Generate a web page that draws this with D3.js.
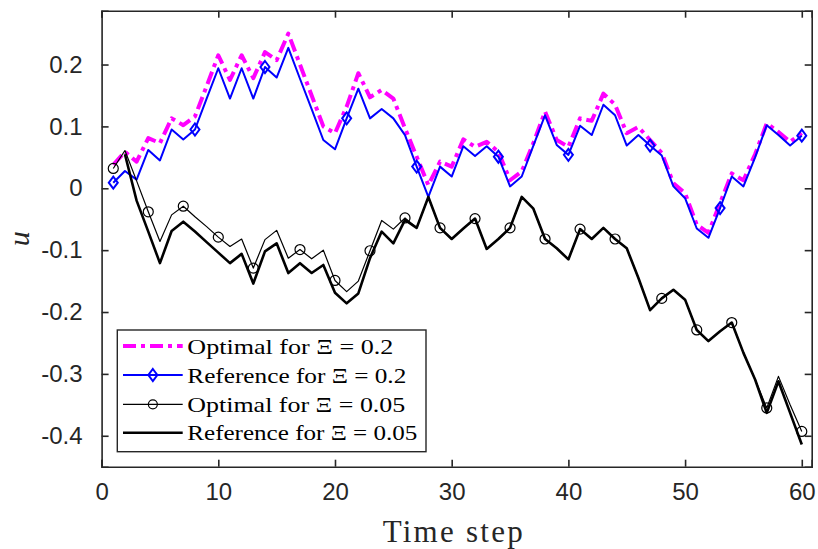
<!DOCTYPE html>
<html lang="en">
	<head>
		<meta charset="utf-8">
		<title>u vs time step</title>
		<script src="https://d3js.org/d3.v7.min.js"></script>
		<style>
			body { margin: 0; background: #fff; }
		</style>
	</head>
	<body>
		<div id="my_dataviz"></div>
		<script>
// time steps 1..60
var steps = [1,2,3,4,5,6,7,8,9,10,11,12,13,14,15,16,17,18,19,20,
  21,22,23,24,25,26,27,28,29,30,31,32,33,34,35,36,37,38,39,40,
  41,42,43,44,45,46,47,48,49,50,51,52,53,54,55,56,57,58,59,60]

// Optimal for Xi = 0.2 (magenta dash-dot)
var optimal02 = [0.038,0.059,0.043,0.081,0.073,0.113,0.102,0.116,0.165,0.215,
  0.175,0.215,0.178,0.220,0.207,0.250,0.200,0.150,0.100,0.089,
  0.132,0.186,0.147,0.159,0.145,0.097,0.051,0.005,0.043,0.035,
  0.079,0.067,0.075,0.059,0.013,0.027,0.073,0.124,0.078,0.067,
  0.113,0.109,0.153,0.135,0.089,0.099,0.078,0.057,0.008,-0.008,
  -0.059,-0.072,-0.024,0.024,0.013,0.055,0.105,0.091,0.075,0.089]

// Reference for Xi = 0.2 (blue, diamonds)
var reference02 = [0.009,0.028,0.014,0.062,0.045,0.095,0.079,0.095,0.145,0.194,
  0.145,0.194,0.145,0.196,0.179,0.227,0.177,0.128,0.078,0.063,
  0.113,0.161,0.113,0.128,0.113,0.086,0.035,-0.014,0.035,0.019,
  0.068,0.052,0.068,0.051,0.003,0.019,0.069,0.118,0.070,0.054,
  0.101,0.086,0.135,0.118,0.069,0.086,0.069,0.053,0.003,-0.016,
  -0.065,-0.080,-0.032,0.019,0.003,0.050,0.102,0.086,0.069,0.085]

// Optimal for Xi = 0.05 (thin black, circles)
var optimal005 = [0.032,0.061,0.012,-0.038,-0.086,-0.043,-0.029,-0.046,-0.062,-0.079,
  -0.094,-0.082,-0.129,-0.083,-0.068,-0.113,-0.099,-0.114,-0.100,-0.149,
  -0.167,-0.150,-0.101,-0.052,-0.066,-0.048,-0.064,-0.014,-0.064,-0.082,
  -0.065,-0.049,-0.098,-0.082,-0.064,-0.014,-0.033,-0.082,-0.097,-0.115,
  -0.066,-0.082,-0.064,-0.082,-0.097,-0.145,-0.197,-0.178,-0.164,-0.180,
  -0.229,-0.247,-0.231,-0.217,-0.266,-0.309,-0.355,-0.304,-0.350,-0.393]

// Reference for Xi = 0.05 (thick black), no value at step 1
var reference005 = [null,0.055,-0.020,-0.070,-0.121,-0.069,-0.054,-0.070,-0.087,-0.104,
  -0.121,-0.106,-0.154,-0.102,-0.089,-0.137,-0.121,-0.137,-0.124,-0.169,
  -0.186,-0.170,-0.113,-0.070,-0.089,-0.051,-0.064,-0.014,-0.064,-0.082,
  -0.065,-0.049,-0.098,-0.082,-0.064,-0.014,-0.033,-0.082,-0.097,-0.115,
  -0.066,-0.082,-0.064,-0.082,-0.097,-0.145,-0.197,-0.178,-0.164,-0.180,
  -0.229,-0.247,-0.231,-0.217,-0.266,-0.309,-0.363,-0.312,-0.363,-0.414]

// steps that carry a marker
var diamondSteps = [1,8,14,21,27,34,40,47,53,60]
var circleSteps = [1,4,7,10,13,17,20,23,26,29,32,35,38,41,44,48,51,54,57,60]

// tick labels
var xTicks = [0,10,20,30,40,50,60]
var yTicks = [-0.4,-0.3,-0.2,-0.1,0,0.1,0.2]

var legendLabels = ["Optimal for \u039E = 0.2", "Reference for \u039E = 0.2",
  "Optimal for \u039E = 0.05", "Reference for \u039E = 0.05"]

// dimensions
var W = 818, H = 549
var margin = {top: 10.7, right: 6.3, bottom: 82.3, left: 101.6}
var width = W - margin.left - margin.right,
    height = H - margin.top - margin.bottom
var axisColor = "#262626"

var svg = d3.select("#my_dataviz")
  .append("svg")
    .attr("width", W)
    .attr("height", H)
    .style("display", "block")

var x = d3.scaleLinear().domain([0, 60.85]).range([margin.left, margin.left + width])
var y = d3.scaleLinear().domain([-0.45, 0.287]).range([margin.top + height, margin.top])

var plot = svg.append("g")

var series = [
  {vals: optimal02, color: "#FF00FF", w: 4, dash: "13,5,4,5"},
  {vals: reference02, color: "#0000FF", w: 2, dash: null},
  {vals: reference005, color: "#000000", w: 2.6, dash: null},
  {vals: optimal005, color: "#000000", w: 1.2, dash: null}
]

var line = d3.line()
  .defined(d => d[1] !== null)
  .x(d => x(d[0]))
  .y(d => y(d[1]))

series.forEach(function(s) {
  plot.append("path")
    .datum(steps.map((t, i) => [t, s.vals[i]]))
    .attr("fill", "none")
    .attr("stroke", s.color)
    .attr("stroke-width", s.w)
    .attr("stroke-linejoin", "round")
    .attr("stroke-dasharray", s.dash)
    .attr("d", line)
})

// diamond marker path
function diamond(cx, cy, hw, hh) {
  return `M${cx},${cy - hh}L${cx + hw},${cy}L${cx},${cy + hh}L${cx - hw},${cy}Z`
}

plot.selectAll(".dia")
  .data(diamondSteps)
  .join("path")
    .attr("class", "dia")
    .attr("d", t => diamond(x(t), y(reference02[t - 1]), 4.5, 6))
    .attr("fill", "none")
    .attr("stroke", "#0000FF")
    .attr("stroke-width", 2)

plot.selectAll(".circ")
  .data(circleSteps)
  .join("circle")
    .attr("class", "circ")
    .attr("cx", t => x(t))
    .attr("cy", t => y(optimal005[t - 1]))
    .attr("r", 5)
    .attr("fill", "none")
    .attr("stroke", "#000")
    .attr("stroke-width", 1.2)

// axes (ticks inside, on all four sides)
var tickLen = 7
svg.append("g")
  .attr("transform", `translate(0, ${margin.top + height})`)
  .call(d3.axisBottom(x).tickValues(xTicks).tickSize(-tickLen).tickPadding(16).tickFormat(d3.format("d")))
svg.append("g")
  .attr("transform", `translate(0, ${margin.top})`)
  .call(d3.axisTop(x).tickValues(xTicks).tickSize(-tickLen).tickFormat(""))
svg.append("g")
  .attr("transform", `translate(${margin.left}, 0)`)
  .call(d3.axisLeft(y).tickValues(yTicks).tickSize(-tickLen).tickPadding(19)
    .tickFormat(d => d === 0 ? "0" : d3.format(".1f")(d).replace("\u2212", "-")))
svg.append("g")
  .attr("transform", `translate(${margin.left + width}, 0)`)
  .call(d3.axisRight(y).tickValues(yTicks).tickSize(-tickLen).tickFormat(""))

svg.selectAll(".domain")
  .attr("stroke", axisColor)
  .attr("stroke-width", 1.6)
svg.selectAll(".tick line")
  .attr("stroke", axisColor)
  .attr("stroke-width", 1.6)
svg.selectAll(".tick text")
  .attr("fill", axisColor)
  .style("font-family", "'Liberation Sans', Arial, sans-serif")
  .style("font-size", "24px")

// axis labels
svg.append("text")
  .attr("x", margin.left + width / 2 - 4)
  .attr("y", 542)
  .attr("text-anchor", "middle")
  .attr("textLength", 140)
  .style("font-family", "'Liberation Serif', 'Times New Roman', serif")
  .style("font-size", "31px")
  .attr("fill", axisColor)
  .text("Time step")

svg.append("text")
  .attr("transform", `translate(29, ${margin.top + height / 2}) rotate(-90)`)
  .attr("text-anchor", "middle")
  .style("font-family", "'Liberation Serif', 'Times New Roman', serif")
  .style("font-style", "italic")
  .style("font-size", "30px")
  .attr("fill", axisColor)
  .text("u")

// legend
var lg = svg.append("g")
lg.append("rect")
  .attr("x", 117.3).attr("y", 330)
  .attr("width", 308.7).attr("height", 121.7)
  .attr("fill", "#fff")
  .attr("stroke", axisColor)
  .attr("stroke-width", 1.4)

var rowY = [346, 375, 404.3, 432.7]
var rowW = [206, 219, 218, 230]
var x0 = 123, x1 = 182.7, xm = (x0 + x1) / 2

legendLabels.forEach(function(lbl, i) {
  var s = [series[0], series[1], series[3], series[2]][i]
  lg.append("line")
    .attr("x1", x0).attr("x2", x1)
    .attr("y1", rowY[i]).attr("y2", rowY[i])
    .attr("stroke", s.color)
    .attr("stroke-width", s.w)
    .attr("stroke-dasharray", s.dash)
  lg.append("text")
    .attr("x", 187.3)
    .attr("y", rowY[i] + 7.5)
    .attr("textLength", rowW[i])
    .attr("lengthAdjust", "spacingAndGlyphs")
    .style("font-family", "'Liberation Serif', 'Times New Roman', serif")
    .style("font-size", "22px")
    .attr("fill", "#000")
    .text(lbl)
})
lg.append("path")
  .attr("d", diamond(xm, rowY[1], 4.5, 6))
  .attr("fill", "none")
  .attr("stroke", "#0000FF")
  .attr("stroke-width", 2)
lg.append("circle")
  .attr("cx", xm).attr("cy", rowY[2]).attr("r", 4.5)
  .attr("fill", "none")
  .attr("stroke", "#000")
  .attr("stroke-width", 1.2)
		</script>
	</body>
</html>
